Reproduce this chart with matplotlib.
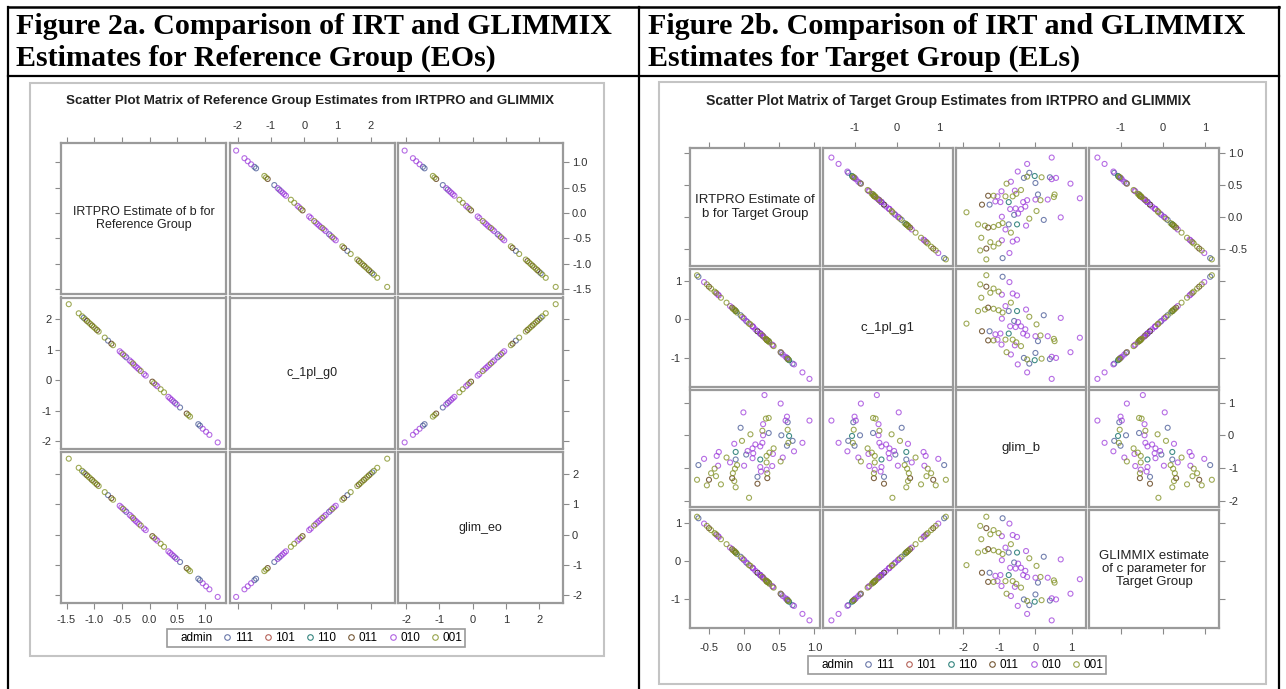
import matplotlib
matplotlib.use("Agg")
import matplotlib.pyplot as plt
from matplotlib.lines import Line2D
from matplotlib.patches import Rectangle

plt.rcParams["axes.unicode_minus"] = False
plt.rcParams["font.family"] = ["Liberation Sans", "DejaVu Sans"]

W, H = 1286, 689

# admin groups (SAS HTMLBlue group colours)
ADMIN_LEVELS = ["111", "101", "110", "011", "010", "001"]
ADMIN_COLORS = ["#445694", "#A23A2E", "#01665E", "#543005", "#9D3CDB", "#7F8E1F"]

# ---- Figure 2a: reference group (EOs) ----
ref_labels = ["IRTPRO Estimate of b for\nReference Group", "c_1pl_g0", "glim_eo"]
ref_b = [-1.46, -1.28, -1.22, -1.19, -1.16, -1.13, -1.10, -1.07, -1.04, -1.01,
         -0.98, -0.95, -0.92, -0.81, -0.75, -0.69, -0.66, -0.54, -0.51, -0.48,
         -0.45, -0.42, -0.36, -0.33, -0.30, -0.28, -0.25, -0.22, -0.19, -0.16,
         -0.10, -0.07, 0.05, 0.08, 0.11, 0.14, 0.20, 0.26, 0.34, 0.37,
         0.40, 0.43, 0.46, 0.49, 0.55, 0.67, 0.70, 0.73, 0.88, 0.91,
         0.96, 1.02, 1.08, 1.23]
ref_c = [2.50, 2.20, 2.10, 2.05, 2.00, 1.95, 1.90, 1.85, 1.80, 1.75,
         1.70, 1.65, 1.60, 1.40, 1.30, 1.20, 1.15, 0.95, 0.90, 0.85,
         0.80, 0.75, 0.65, 0.60, 0.55, 0.50, 0.45, 0.40, 0.35, 0.30,
         0.20, 0.15, -0.05, -0.10, -0.15, -0.20, -0.30, -0.40, -0.55, -0.60,
         -0.65, -0.70, -0.75, -0.80, -0.90, -1.10, -1.15, -1.20, -1.45, -1.50,
         -1.60, -1.70, -1.80, -2.05]
ref_glim = [2.50, 2.20, 2.10, 2.05, 2.00, 1.95, 1.90, 1.85, 1.80, 1.75,
            1.70, 1.65, 1.60, 1.40, 1.30, 1.20, 1.15, 0.95, 0.90, 0.85,
            0.80, 0.75, 0.65, 0.60, 0.55, 0.50, 0.45, 0.40, 0.35, 0.30,
            0.20, 0.15, -0.05, -0.10, -0.15, -0.20, -0.30, -0.40, -0.55, -0.60,
            -0.65, -0.70, -0.75, -0.80, -0.90, -1.10, -1.15, -1.20, -1.45, -1.50,
            -1.60, -1.70, -1.80, -2.05]
ref_admin = ["001", "001", "001", "111", "001", "011", "001", "001", "011", "001",
             "001", "011", "001", "001", "111", "011", "001", "010", "010", "001",
             "010", "111", "010", "010", "001", "010", "010", "010", "010", "001",
             "010", "010", "011", "001", "010", "010", "001", "001", "010", "010",
             "010", "010", "111", "010", "111", "011", "001", "001", "111", "111",
             "010", "010", "010", "010"]
ref_limits = [(-1.60, 1.38), (-2.25, 2.72), (-2.25, 2.72)]
ref_ticks = [[-1.5, -1.0, -0.5, 0.0, 0.5, 1.0], [-2, -1, 0, 1, 2], [-2, -1, 0, 1, 2]]
ref_fmt = ["%.1f", "%d", "%d"]

# ---- Figure 2b: target group (ELs) ----
tgt_labels = ["IRTPRO Estimate of\nb for Target Group", "c_1pl_g1", "glim_b",
              "GLIMMIX estimate\nof c parameter for\nTarget Group"]
tgt_b = [-0.67, -0.65, -0.57, -0.53, -0.50, -0.47, -0.40, -0.42, -0.37, -0.39,
         -0.36, -0.33, -0.25, -0.20, -0.12, -0.14, -0.17, -0.16, -0.13, -0.10,
         -0.12, -0.12, -0.14, 0.00, 0.03, 0.05, -0.03, -0.05, -0.01, 0.07,
         0.12, 0.13, 0.12, 0.16, 0.09, 0.19, 0.19, 0.24, 0.23, 0.23,
         0.23, 0.26, 0.27, 0.26, 0.27, 0.29, 0.32, 0.32, 0.32, 0.36,
         0.35, 0.31, 0.35, 0.33, 0.33, 0.40, 0.41, 0.42, 0.52, 0.55,
         0.53, 0.52, 0.61, 0.63, 0.64, 0.62, 0.62, 0.61, 0.59, 0.71,
         0.69, 0.83, 0.93]
tgt_c = [1.16, 1.12, 0.98, 0.92, 0.86, 0.81, 0.70, 0.73, 0.65, 0.68,
         0.63, 0.57, 0.44, 0.35, 0.22, 0.26, 0.31, 0.28, 0.24, 0.18,
         0.22, 0.22, 0.26, 0.02, -0.04, -0.07, 0.07, 0.11, 0.04, -0.11,
         -0.18, -0.20, -0.18, -0.26, -0.13, -0.31, -0.31, -0.39, -0.37, -0.37,
         -0.37, -0.42, -0.44, -0.42, -0.44, -0.48, -0.53, -0.53, -0.53, -0.60,
         -0.57, -0.51, -0.57, -0.55, -0.55, -0.66, -0.68, -0.70, -0.86, -0.92,
         -0.88, -0.86, -1.01, -1.05, -1.07, -1.03, -1.04, -1.01, -0.98, -1.18,
         -1.16, -1.39, -1.56]
tgt_glim_b = [-1.36, -0.91, -0.72, -1.53, -1.36, -1.16, -1.25, -1.02, -0.93, -0.63,
              -0.51, -1.50, -0.68, -0.83, -1.59, -1.40, -1.31, -1.16, -1.02, -0.91,
              -0.74, -0.51, -0.26, -0.93, -0.59, -0.48, -0.17, 0.23, 0.70, -1.91,
              -0.70, -0.55, -0.40, -0.28, 0.03, -1.48, -1.27, -1.11, -0.97, -0.74,
              -0.34, -0.23, 0.00, 0.14, 0.34, 1.23, -1.05, -0.83, -0.63, -0.53,
              0.07, 0.51, 0.53, -1.31, -1.16, -0.94, -0.57, -0.40, -0.80, -0.68,
              0.00, 0.97, -0.32, -0.23, -0.02, 0.17, 0.40, 0.57, 0.45, -0.49,
              -0.17, -0.23, 0.45]
tgt_glim_c = [1.16, 1.12, 0.98, 0.92, 0.86, 0.81, 0.70, 0.73, 0.65, 0.68,
              0.63, 0.57, 0.44, 0.35, 0.22, 0.26, 0.31, 0.28, 0.24, 0.18,
              0.22, 0.22, 0.26, 0.02, -0.04, -0.07, 0.07, 0.11, 0.04, -0.11,
              -0.18, -0.20, -0.18, -0.26, -0.13, -0.31, -0.31, -0.39, -0.37, -0.37,
              -0.37, -0.42, -0.44, -0.42, -0.44, -0.48, -0.53, -0.53, -0.53, -0.60,
              -0.57, -0.51, -0.57, -0.55, -0.55, -0.66, -0.68, -0.70, -0.86, -0.92,
              -0.88, -0.86, -1.01, -1.05, -1.07, -1.03, -1.04, -1.01, -0.98, -1.18,
              -1.16, -1.39, -1.56]
tgt_admin = ["001", "111", "010", "001", "011", "001", "001", "001", "010", "010",
             "010", "001", "001", "010", "001", "001", "011", "001", "001", "001",
             "111", "110", "010", "010", "111", "010", "001", "111", "010", "001",
             "010", "010", "010", "010", "001", "011", "111", "010", "010", "110",
             "010", "010", "010", "001", "010", "010", "010", "001", "001", "001",
             "111", "001", "001", "011", "001", "010", "010", "001", "001", "010",
             "111", "010", "111", "001", "110", "001", "111", "010", "010", "010",
             "111", "010", "010"]
tgt_limits = [(-0.77, 1.08), (-1.76, 1.33), (-2.20, 1.40), (-1.76, 1.33)]
tgt_ticks = [[-0.5, 0.0, 0.5, 1.0], [-1, 0, 1], [-2, -1, 0, 1], [-1, 0, 1]]
tgt_fmt = ["%.1f", "%d", "%d", "%d"]


def rect(x0, y0, x1, y1):
    """Pixel box (top-left origin) -> figure fraction rect."""
    return [x0 / W, 1 - y1 / H, (x1 - x0) / W, (y1 - y0) / H]


def fig_line(fig, x0, y0, x1, y1, lw=1.6):
    fig.add_artist(Line2D([x0 / W, x1 / W], [1 - y0 / H, 1 - y1 / H],
                          transform=fig.transFigure, color="black", lw=lw))


def fit_text(fig, x, y, s, width_px, **kw):
    """Place text and scale its font so it spans width_px pixels."""
    t = fig.text(x / W, 1 - y / H, s, **kw)
    w = t.get_window_extent(fig.canvas.get_renderer()).width
    t.set_fontsize(t.get_fontsize() * width_px / w)
    return t


def draw_matrix(fig, data, labels, limits, ticks, fmts, admin, grid, gap,
                label_size, xpad):
    n = len(data)
    x0, y0, x1, y1 = grid
    cw = (x1 - x0 - (n - 1) * gap) / n
    ch = (y1 - y0 - (n - 1) * gap) / n
    for i in range(n):
        for j in range(n):
            cx = x0 + j * (cw + gap)
            cy = y0 + i * (ch + gap)
            ax = fig.add_axes(rect(cx, cy, cx + cw, cy + ch))
            ax.set_xlim(limits[j])
            ax.set_ylim(limits[i])
            ax.set_xticks(ticks[j])
            ax.set_xticklabels([fmts[j] % t for t in ticks[j]])
            ax.set_yticks(ticks[i])
            ax.set_yticklabels([fmts[i] % t for t in ticks[i]])
            ax.tick_params(axis="x", top=(i == 0), bottom=(i == n - 1),
                           labeltop=(i == 0 and j % 2 == 1),
                           labelbottom=(i == n - 1 and j % 2 == 0), pad=xpad)
            ax.tick_params(axis="y", left=(j == 0), right=(j == n - 1),
                           labelleft=(j == 0 and i % 2 == 1),
                           labelright=(j == n - 1 and i % 2 == 0), pad=2)
            ax.tick_params(length=4.5, width=0.8, color="#8a8a8a",
                           labelsize=8, labelcolor="#333333")
            for sp in ax.spines.values():
                sp.set_color("#9a9a9a")
                sp.set_linewidth(1.6)
            if i == j:
                ax.text(0.5, 0.5, labels[i], ha="center", va="center",
                        transform=ax.transAxes, fontsize=label_size,
                        color="#222222", linespacing=1.15)
                continue
            for lev, col in zip(ADMIN_LEVELS, ADMIN_COLORS):
                xs = [v for v, g in zip(data[j], admin) if g == lev]
                ys = [v for v, g in zip(data[i], admin) if g == lev]
                if xs:
                    ax.scatter(xs, ys, s=13, facecolors="none", edgecolors=col,
                               linewidths=0.8, alpha=0.75)


def add_legend(fig, cx, cy):
    handles = [Line2D([], [], ls="none")]
    names = ["admin"]
    for lev, col in zip(ADMIN_LEVELS, ADMIN_COLORS):
        handles.append(Line2D([], [], ls="none", marker="o", markersize=4,
                              markerfacecolor="none", markeredgecolor=col,
                              markeredgewidth=0.8, alpha=0.8))
        names.append(lev)
    leg = fig.legend(handles, names, loc="center", bbox_to_anchor=(cx / W, 1 - cy / H),
                     ncol=7, fontsize=8.5, frameon=True, fancybox=False,
                     handlelength=0.5, handletextpad=0.4, columnspacing=1.0,
                     borderpad=0.25, borderaxespad=0)
    leg.get_frame().set_edgecolor("#808080")
    leg.get_frame().set_linewidth(1.2)


fig = plt.figure(figsize=(W / 100, H / 100), dpi=100)

# table frame
fig_line(fig, 8, 7, 1279, 7, lw=1.8)
fig_line(fig, 8, 76, 1279, 76)
for xv in (8, 639, 1279):
    fig_line(fig, xv, 7, xv, 689)

# table headers
hdr = fit_text(fig, 16, 26, "Figure 2a. Comparison of IRT and GLIMMIX", 596,
               ha="left", va="center", family="Liberation Serif", weight="bold", fontsize=20)
hs = hdr.get_fontsize()
fig.text(16 / W, 1 - 58 / H, "Estimates for Reference Group (EOs)", ha="left", va="center",
         family="Liberation Serif", weight="bold", fontsize=hs)
fig.text(648 / W, 1 - 26 / H, "Figure 2b. Comparison of IRT and GLIMMIX", ha="left", va="center",
         family="Liberation Serif", weight="bold", fontsize=hs)
fig.text(648 / W, 1 - 58 / H, "Estimates for Target Group (ELs)", ha="left", va="center",
         family="Liberation Serif", weight="bold", fontsize=hs)

# chart boxes (behind the matrix axes)
fig.add_artist(Rectangle((30 / W, 1 - 656 / H), 574 / W, 573 / H, transform=fig.transFigure,
                         facecolor="white", edgecolor="#c4c4c4", lw=1.5, zorder=-5))
fig.add_artist(Rectangle((659 / W, 1 - 684 / H), 607 / W, 602 / H, transform=fig.transFigure,
                         facecolor="white", edgecolor="#c4c4c4", lw=1.5, zorder=-5))

fit_text(fig, 310, 101, "Scatter Plot Matrix of Reference Group Estimates from IRTPRO and GLIMMIX",
         488, ha="center", va="center", weight="bold", fontsize=9, color="#222222")
fit_text(fig, 948, 101, "Scatter Plot Matrix of Target Group Estimates from IRTPRO and GLIMMIX",
         488, ha="center", va="center", weight="bold", fontsize=9, color="#222222")

draw_matrix(fig, [ref_b, ref_c, ref_glim], ref_labels, ref_limits, ref_ticks, ref_fmt,
            ref_admin, (61, 143, 563, 603), 3.5, 9, 4)
draw_matrix(fig, [tgt_b, tgt_c, tgt_glim_b, tgt_glim_c], tgt_labels, tgt_limits, tgt_ticks,
            tgt_fmt, tgt_admin, (690, 148, 1219, 628), 3, 9.5, 6)

add_legend(fig, 316, 638)
add_legend(fig, 957, 665)

fig.savefig("out.png", dpi=100)
